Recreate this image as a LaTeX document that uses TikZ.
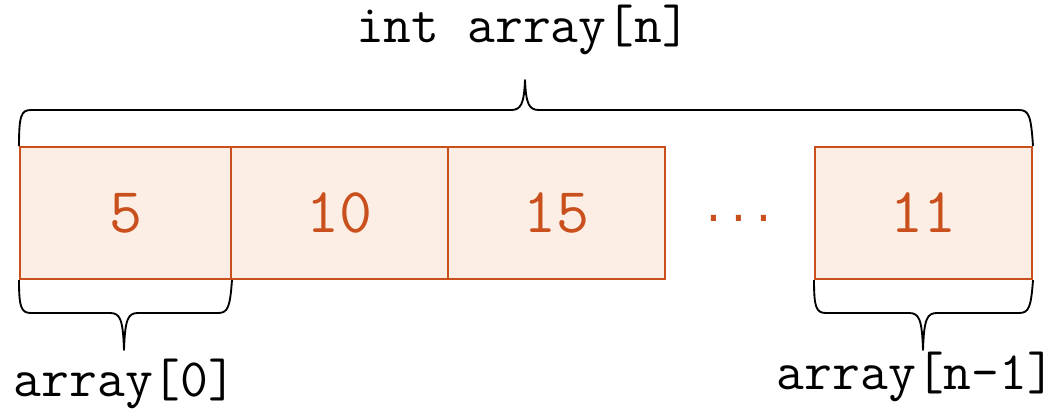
\documentclass[tikz,border=0pt]{standalone}
\usepackage{fontspec}
\newfontfamily\dotfont{DejaVu Sans Mono}
\definecolor{cellfill}{HTML}{FCEEE5}
\definecolor{cellline}{HTML}{C9501C}
\begin{document}
\begin{tikzpicture}[x=0.75pt,y=-0.75pt,
  cell/.style={draw=cellline,fill=cellfill,line width=1.5pt,minimum height=99pt,
    inner sep=0pt,anchor=north west,font=\ttfamily\fontsize{48}{48}\selectfont,text=cellline},
  lbl/.style={font=\ttfamily\fontsize{40.5}{40.5}\selectfont,text=black,inner sep=0pt},
  brace/.style={draw=black,line width=1.4pt,line join=round}]
\useasboundingbox (0,0) rectangle (1056,411);

% array cells
\node[cell,minimum width=158.25pt] (c0) at (19,146) {5};
\node[cell,minimum width=162.75pt] (c1) at (230,146) {10};
\node[cell,minimum width=162.75pt] (c2) at (447,146) {15};
\node[cell,minimum width=162.75pt] (c3) at (814,146) {11};
\node[font=\dotfont\fontsize{31}{31}\selectfont,text=cellline,inner sep=0pt,anchor=base] (dots) at (739,221) {...};

% labels
\node[lbl] (whole) at (523,30) {int array[n]};
\node[lbl] (first) at (125,384) {array[0]};
\node[lbl] (last) at (916,377) {array[n-1]};

% brace over the whole array
\draw[brace] (c0.north west) .. controls (19,116) and (21,110) .. (31,110)
  -- (511,110) .. controls (521,110) and (524,104) .. (525,80)
  .. controls (526,104) and (529,110) .. (539,110)
  -- (1019,110) .. controls (1029,110) and (1031,116) .. (c3.north east);

% brace under the first cell
\draw[brace] (c0.south west) .. controls (19,307) and (21,313) .. (31,313)
  -- (110,313) .. controls (120,313) and (123,319) .. (124,350)
  .. controls (125,319) and (128,313) .. (138,313)
  -- (218,313) .. controls (228,313) and (230,307) .. (c0.south east);

% brace under the last cell
\draw[brace] (c3.south west) .. controls (814,307) and (816,313) .. (826,313)
  -- (909,313) .. controls (919,313) and (922,319) .. (923,350)
  .. controls (924,319) and (927,313) .. (937,313)
  -- (1019,313) .. controls (1029,313) and (1031,307) .. (c3.south east);
\end{tikzpicture}
\end{document}
